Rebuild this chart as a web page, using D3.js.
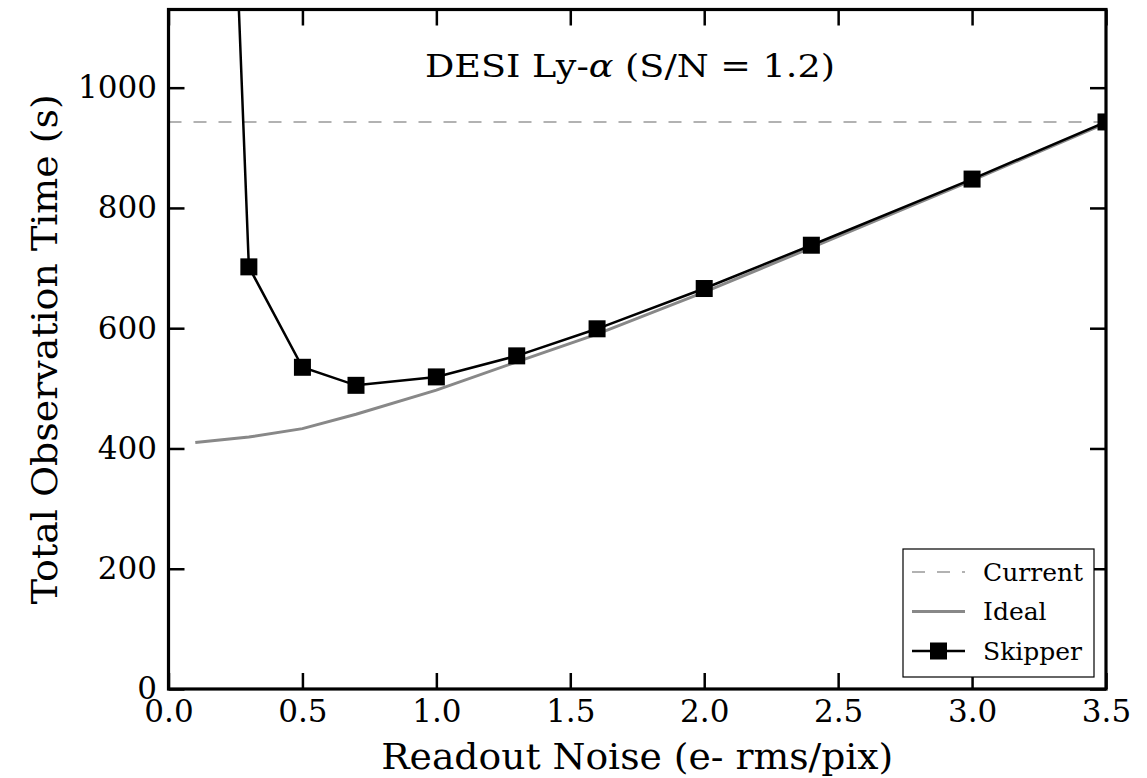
<!DOCTYPE html>
<html>
<head>
<meta charset="utf-8">
<script src="https://d3js.org/d3.v7.min.js"></script>
<style>
  body { margin: 0; background: #fff; }
  svg text { font-family: "DejaVu Serif", serif; fill: #000; }
</style>
</head>
<body>
<div id="chart"></div>
<script>
// readout noise (e- rms/pix) and total observation time (s)
var skipperNoise = [0.2, 0.3, 0.5, 0.7, 1.0, 1.3, 1.6, 2.0, 2.4, 3.0, 3.5];
var skipperTime = [1850, 702, 535, 505, 519, 554, 599, 666, 738, 848, 943];
var idealNoise = [0.1, 0.3, 0.5, 0.7, 1.0, 1.3, 1.6, 2.0, 2.4, 3.0, 3.5];
var idealTime = [410, 419, 433, 457, 497, 544, 590, 660, 734, 846, 941];
var currentTime = 943;
var xTicks = [0, 0.5, 1.0, 1.5, 2.0, 2.5, 3.0, 3.5];
var yTicks = [0, 200, 400, 600, 800, 1000];

var svgWidth = 1147;
var svgHeight = 778;
var margin = { top: 9.5, right: 41, bottom: 89, left: 168.5 };
var width = svgWidth - margin.left - margin.right;
var height = svgHeight - margin.top - margin.bottom;

var svg = d3.select("#chart").append("svg")
  .attr("width", svgWidth)
  .attr("height", svgHeight);

var chartGroup = svg.append("g")
  .attr("transform", `translate(${margin.left}, ${margin.top})`);

var xScale = d3.scaleLinear().domain([0, 3.5]).range([0, width]);
var yScale = d3.scaleLinear().domain([0, 1130]).range([height, 0]);

chartGroup.append("clipPath").attr("id", "clip")
  .append("rect").attr("width", width).attr("height", height);

var plot = chartGroup.append("g").attr("clip-path", "url(#clip)");

// current (dashed)
plot.append("line")
  .attr("x1", 0).attr("x2", width)
  .attr("y1", yScale(currentTime)).attr("y2", yScale(currentTime))
  .attr("stroke", "#999").attr("stroke-width", 1.6)
  .attr("stroke-dasharray", "13,12");

var line = d3.line().x(d => xScale(d[0])).y(d => yScale(d[1]));

// ideal
plot.append("path")
  .datum(idealNoise.map((n, i) => [n, idealTime[i]]))
  .attr("d", line)
  .attr("fill", "none").attr("stroke", "#888").attr("stroke-width", 3);

// skipper
var skipper = skipperNoise.map((n, i) => [n, skipperTime[i]]);
plot.append("path")
  .datum(skipper)
  .attr("d", line)
  .attr("fill", "none").attr("stroke", "#000").attr("stroke-width", 2.5);

var sq = 17;
plot.selectAll("rect.marker")
  .data(skipper)
  .enter()
  .append("rect")
  .attr("class", "marker")
  .attr("x", d => xScale(d[0]) - sq / 2)
  .attr("y", d => yScale(d[1]) - sq / 2)
  .attr("width", sq).attr("height", sq)
  .attr("fill", "#000");

// axes (ticks inside on all four sides)
var tickLen = 16;
var bottomAxis = d3.axisBottom(xScale).tickValues(xTicks).tickFormat(d3.format(".1f"))
  .tickSizeInner(-tickLen).tickSizeOuter(0).tickPadding(10);
var topAxis = d3.axisTop(xScale).tickValues(xTicks).tickFormat("")
  .tickSizeInner(-tickLen).tickSizeOuter(0);
var leftAxis = d3.axisLeft(yScale).tickValues(yTicks).tickFormat(d3.format("d"))
  .tickSizeInner(-tickLen).tickSizeOuter(0).tickPadding(11.5);
var rightAxis = d3.axisRight(yScale).tickValues(yTicks).tickFormat("")
  .tickSizeInner(-tickLen).tickSizeOuter(0);

var xAxis = chartGroup.append("g").attr("transform", `translate(0, ${height})`).call(bottomAxis);
chartGroup.append("g").call(topAxis);
var yAxis = chartGroup.append("g").call(leftAxis);
chartGroup.append("g").attr("transform", `translate(${width}, 0)`).call(rightAxis);

chartGroup.selectAll(".tick line").attr("stroke", "#000").attr("stroke-width", 2.5);
chartGroup.selectAll(".domain").remove();
chartGroup.selectAll(".tick text").attr("font-size", "31px").attr("font-family", "DejaVu Serif");
xAxis.selectAll(".tick text").attr("dy", "0.74em");

// frame
chartGroup.append("rect")
  .attr("width", width).attr("height", height)
  .attr("fill", "none").attr("stroke", "#000").attr("stroke-width", 3.2);

// title
svg.append("text")
  .attr("x", 630).attr("y", 77)
  .attr("text-anchor", "middle")
  .attr("font-size", "32px")
  .attr("textLength", 410)
  .attr("lengthAdjust", "spacingAndGlyphs")
  .html('DESI Ly-<tspan font-style="italic">α</tspan> (S/N = 1.2)');

// axis labels
svg.append("text")
  .attr("x", margin.left + width / 2).attr("y", 769)
  .attr("text-anchor", "middle")
  .attr("font-size", "35px")
  .attr("textLength", 512)
  .attr("lengthAdjust", "spacingAndGlyphs")
  .text("Readout Noise (e- rms/pix)");

svg.append("text")
  .attr("transform", "rotate(-90)")
  .attr("x", -(margin.top + height / 2)).attr("y", 57)
  .attr("text-anchor", "middle")
  .attr("font-size", "35px")
  .attr("textLength", 510)
  .attr("lengthAdjust", "spacingAndGlyphs")
  .text("Total Observation Time (s)");

// legend
var legend = svg.append("g").attr("transform", "translate(903, 549)");
legend.append("rect")
  .attr("width", 191).attr("height", 128)
  .attr("fill", "#fff").attr("stroke", "#000").attr("stroke-width", 1.2);

var items = [
  { label: "Current", color: "#999", w: 1.6, dash: "13,12", marker: false },
  { label: "Ideal", color: "#888", w: 3, dash: null, marker: false },
  { label: "Skipper", color: "#000", w: 2.5, dash: null, marker: true }
];
items.forEach(function(it, i) {
  var y = 23 + i * 39.5;
  legend.append("line")
    .attr("x1", 9).attr("x2", 62).attr("y1", y).attr("y2", y)
    .attr("stroke", it.color).attr("stroke-width", it.w)
    .attr("stroke-dasharray", it.dash);
  if (it.marker) {
    legend.append("rect")
      .attr("x", 35.5 - sq / 2).attr("y", y - sq / 2)
      .attr("width", sq).attr("height", sq).attr("fill", "#000");
  }
  legend.append("text")
    .attr("x", 80).attr("y", y).attr("dy", "0.35em")
    .attr("font-size", "25px")
    .text(it.label);
});
</script>
</body>
</html>
